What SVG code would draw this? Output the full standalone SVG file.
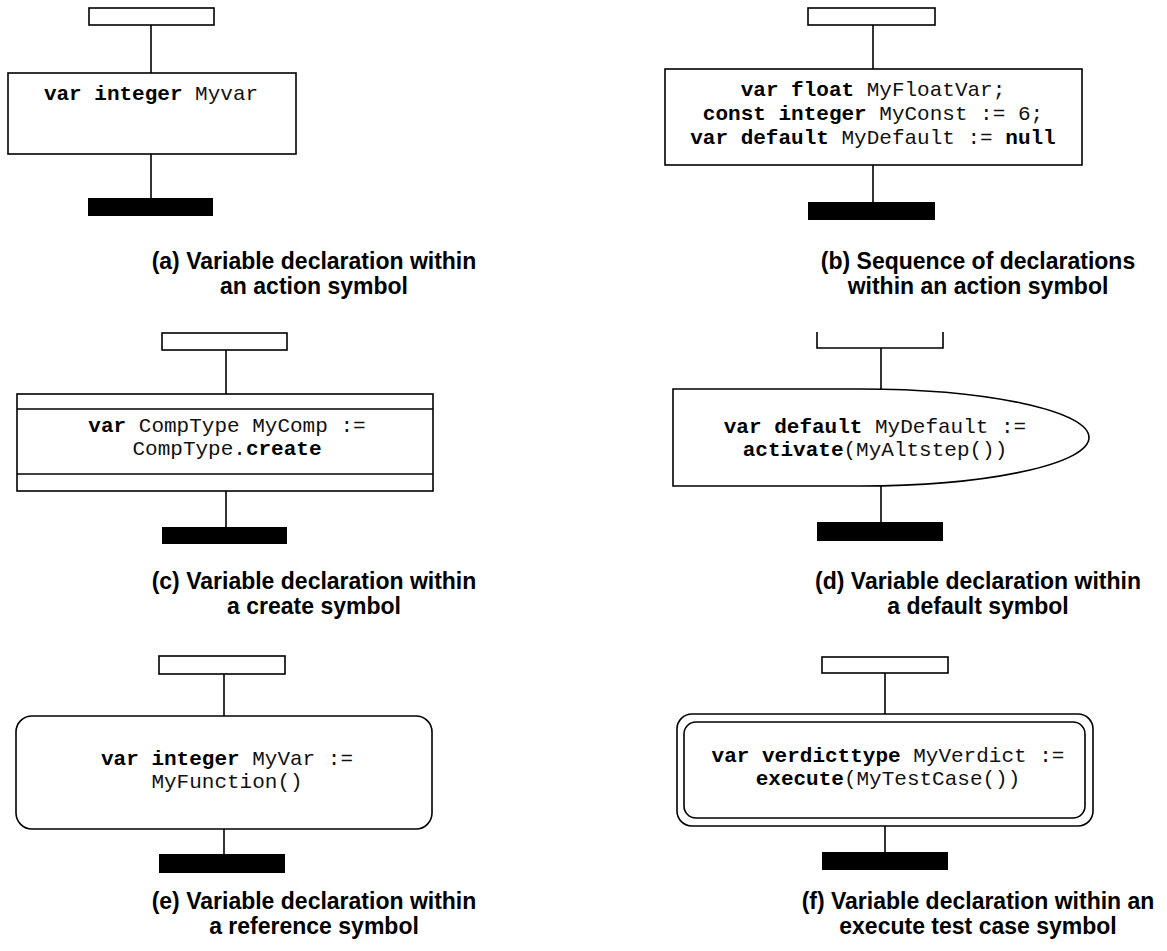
<svg xmlns="http://www.w3.org/2000/svg" width="1167" height="951" viewBox="0 0 1167 951">
<style>
.s{fill:#fff;stroke:#000;stroke-width:1.6}
.n{fill:none;stroke:#000;stroke-width:1.6}
.bar{fill:#000}
.c{font-family:"Liberation Mono","Courier New",monospace;font-size:21px;fill:#111;text-anchor:middle}
.b{font-weight:bold;fill:#000}
.cap{font-family:"Liberation Sans",Arial,sans-serif;font-size:23px;font-weight:bold;fill:#000;text-anchor:middle}
</style>
<rect width="1167" height="951" fill="#fff"/>
<g id="connectors">
<line class="n" x1="151" y1="25" x2="151" y2="73"/>
<line class="n" x1="151" y1="154" x2="151" y2="198"/>
<line class="n" x1="873" y1="25" x2="873" y2="69"/>
<line class="n" x1="873" y1="165" x2="873" y2="202"/>
<line class="n" x1="226" y1="350" x2="226" y2="394"/>
<line class="n" x1="226" y1="491" x2="226" y2="527"/>
<line class="n" x1="881" y1="348" x2="881" y2="389"/>
<line class="n" x1="881" y1="486" x2="881" y2="522"/>
<line class="n" x1="224" y1="674" x2="224" y2="716"/>
<line class="n" x1="224" y1="829" x2="224" y2="854"/>
<line class="n" x1="885" y1="673" x2="885" y2="714"/>
<line class="n" x1="885" y1="826" x2="885" y2="852"/>
</g>
<g id="a">
<rect class="s" x="89" y="8" width="125" height="17"/>
<rect class="s" x="8" y="73" width="288" height="81"/>
<text class="c" x="151" y="100"><tspan class="b">var integer</tspan> Myvar</text>
<rect class="bar" x="88" y="198" width="125" height="18"/>
<text class="cap" x="314" y="269">(a) Variable declaration within</text>
<text class="cap" x="314" y="294">an action symbol</text>
</g>
<g id="b">
<rect class="s" x="808" y="8" width="127" height="17"/>
<rect class="s" x="665" y="69" width="417" height="96"/>
<text class="c" x="873" y="96"><tspan class="b">var float</tspan> MyFloatVar;</text>
<text class="c" x="873" y="120"><tspan class="b">const integer</tspan> MyConst := 6;</text>
<text class="c" x="873" y="144"><tspan class="b">var default</tspan> MyDefault := <tspan class="b">null</tspan></text>
<rect class="bar" x="808" y="202" width="127" height="18"/>
<text class="cap" x="978" y="269">(b) Sequence of declarations</text>
<text class="cap" x="978" y="294">within an action symbol</text>
</g>
<g id="c">
<rect class="s" x="162" y="333" width="125" height="17"/>
<rect class="s" x="17" y="394" width="416" height="97"/>
<line class="n" x1="17" y1="409" x2="433" y2="409"/>
<line class="n" x1="17" y1="474" x2="433" y2="474"/>
<text class="c" x="227" y="432"><tspan class="b">var</tspan> CompType MyComp :=</text>
<text class="c" x="227" y="455">CompType.<tspan class="b">create</tspan></text>
<rect class="bar" x="162" y="527" width="125" height="17"/>
<text class="cap" x="314" y="589">(c) Variable declaration within</text>
<text class="cap" x="314" y="614">a create symbol</text>
</g>
<g id="d">
<path class="s" d="M817,332 V348 H943 V332"/>
<path class="s" d="M673,389 H860 A229,48.5 0 0 1 860,486 H673 Z"/>
<text class="c" x="875" y="433"><tspan class="b">var default</tspan> MyDefault :=</text>
<text class="c" x="875" y="456"><tspan class="b">activate</tspan>(MyAltstep())</text>
<rect class="bar" x="817" y="522" width="126" height="19"/>
<text class="cap" x="978" y="589">(d) Variable declaration within</text>
<text class="cap" x="978" y="614">a default symbol</text>
</g>
<g id="e">
<rect class="s" x="159" y="656" width="126" height="18"/>
<rect class="s" x="16" y="716" width="416" height="113" rx="16" ry="16"/>
<text class="c" x="227" y="765"><tspan class="b">var integer</tspan> MyVar :=</text>
<text class="c" x="227" y="788">MyFunction()</text>
<rect class="bar" x="159" y="854" width="126" height="19"/>
<text class="cap" x="314" y="909">(e) Variable declaration within</text>
<text class="cap" x="314" y="934">a reference symbol</text>
</g>
<g id="f">
<rect class="s" x="822" y="657" width="126" height="16"/>
<rect class="s" x="677" y="714" width="416" height="112" rx="15" ry="15"/>
<rect class="s" x="684" y="722" width="401" height="96" rx="12" ry="12"/>
<text class="c" x="888" y="762"><tspan class="b">var verdicttype</tspan> MyVerdict :=</text>
<text class="c" x="888" y="785"><tspan class="b">execute</tspan>(MyTestCase())</text>
<rect class="bar" x="822" y="852" width="126" height="18"/>
<text class="cap" x="978" y="909">(f) Variable declaration within an</text>
<text class="cap" x="978" y="934">execute test case symbol</text>
</g>
</svg>
